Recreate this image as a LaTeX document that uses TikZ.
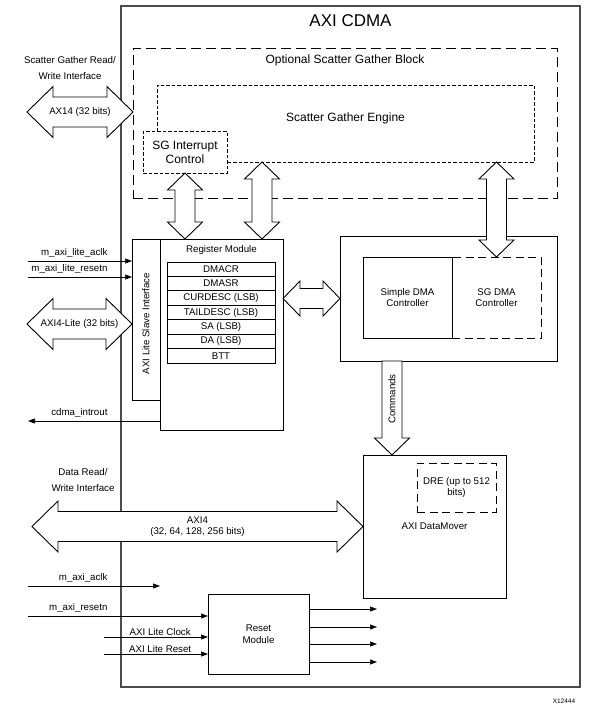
\documentclass[tikz,border=0pt]{standalone}
\usepackage{fontspec}
\setmainfont{Liberation Sans}
\usetikzlibrary{arrows.meta,positioning,calc}

\begin{document}
\begin{tikzpicture}[
    x=1pt, y=-1pt,
    font=\fontsize{9.7}{11.5}\selectfont,
    box/.style={draw, line width=0.9pt, align=center, anchor=north west, inner sep=0pt, outer sep=0pt},
    ldash/.style={box, dash pattern=on 8pt off 4.5pt},
    sdash/.style={box, dash pattern=on 3.5pt off 2pt},
    reg/.style={draw, line width=0.9pt, minimum width=108pt, minimum height=14.43pt, inner sep=0pt, outer sep=0pt},
    sig/.style={-{Triangle[length=7pt,width=5pt]}, line width=0.6pt},
    big/.style={font=\fontsize{12}{14}\selectfont},
    hdbl/.style n args={3}{to path={let \p1=(\tikztostart), \p2=(\tikztotarget) in
        -- (\x1+#1,\y1+#2) -- (\x1+#1,\y1+#3) -- (\x2-#1,\y1+#3) -- (\x2-#1,\y1+#2)
        -- (\x2,\y1) -- (\x2-#1,\y1-#2) -- (\x2-#1,\y1-#3) -- (\x1+#1,\y1-#3)
        -- (\x1+#1,\y1-#2) -- cycle}},
    vdbl/.style n args={3}{to path={let \p1=(\tikztostart), \p2=(\tikztotarget) in
        -- (\x1+#2,\y1-#1) -- (\x1+#3,\y1-#1) -- (\x1+#3,\y2+#1) -- (\x1+#2,\y2+#1)
        -- (\x1,\y2) -- (\x1-#2,\y2+#1) -- (\x1-#3,\y2+#1) -- (\x1-#3,\y1-#1)
        -- (\x1-#2,\y1-#1) -- cycle}},
    sdown/.style n args={3}{to path={let \p1=(\tikztostart), \p2=(\tikztotarget) in
        (\x1-#3,\y1) -- (\x1-#3,\y2+#1) -- (\x1-#2,\y2+#1) -- (\x1,\y2)
        -- (\x1+#2,\y2+#1) -- (\x1+#3,\y2+#1) -- (\x1+#3,\y1) -- cycle}},
    wide/.style={draw, fill=white, line width=0.9pt, hdbl={26pt}{25.5pt}{15pt}},
    hmid/.style={draw, fill=white, line width=0.9pt, hdbl={17pt}{17.5pt}{10pt}},
    vmid/.style={draw, fill=white, line width=0.9pt, vdbl={17pt}{17.5pt}{10pt}}
]
\useasboundingbox (0,0) rectangle (614,718);

% AXI CDMA core
\node[box, draw=black!70, line width=1.2pt, minimum width=459pt, minimum height=681pt] (cdma) at (121,6) {};
\node[font=\fontsize{17}{20}\selectfont] (cdmatitle) at ([yshift=-15pt]cdma.north) {AXI CDMA};

% scatter gather part
\node[box, dash pattern=on 10pt off 5pt, minimum width=424pt, minimum height=150pt] (sgblock) at (133,48) {};
\node[big] (sgtitle) at ([yshift=-12pt]sgblock.north) {Optional Scatter Gather Block};
\node[box, draw=none, minimum width=377pt, minimum height=77pt] (sgeng) at (157,85) {};
\node[big] (engtxt) at (345.5,118) {Scatter Gather Engine};
\node[sdash, big, minimum width=84pt, minimum height=42pt] (sgint) at (143,131) {SG Interrupt\\Control};
\draw[line width=0.9pt, dash pattern=on 3.5pt off 2pt]
    (sgint.north -| sgeng.west) |- (sgeng.north east) |- (sgint.east |- sgeng.south);

% register module
\node[box, minimum width=28pt, minimum height=161pt] (slave) at (132,239) {};
\node[rotate=90] (slavetxt) at ([yshift=-4pt]slave.center) {AXI Lite Slave Interface};
\node[box, minimum width=123pt, minimum height=191pt] (regmod) at (160,239) {};
\node (regtitle) at (221.5,250) {Register Module};
\node[reg, anchor=north west] (dmacr) at (167,262) {DMACR};
\node[reg, below=0pt of dmacr] (dmasr) {DMASR};
\node[reg, below=0pt of dmasr] (curdesc) {CURDESC (LSB)};
\node[reg, below=0pt of curdesc] (taildesc) {TAILDESC (LSB)};
\node[reg, below=0pt of taildesc] (sa) {SA (LSB)};
\node[reg, below=0pt of sa] (da) {DA (LSB)};
\node[reg, below=0pt of da] (btt) {BTT};

% DMA controllers, datamover, reset
\node[box, minimum width=217pt, minimum height=125pt] (dma) at (340,236) {};
\node[box, minimum width=89pt, minimum height=81pt] (simple) at (363,257) {Simple DMA\\Controller};
\node[ldash, minimum width=89pt, minimum height=81pt] (sgdma) at (452,257) {SG DMA\\Controller};
\node[box, minimum width=143pt, minimum height=143pt] (dmover) at (363,455) {AXI DataMover};
\node[ldash, minimum width=79pt, minimum height=49pt] (dre) at (417,463) {DRE (up to 512\\bits)};
\node[box, minimum width=101pt, minimum height=80pt, font=\fontsize{9.7}{12}\selectfont] (resetm) at (208,594) {Reset\\Module};

% hollow buses
\coordinate (ar2) at ([xshift=-21pt]regmod.north east);
\coordinate (cmdx) at ([xshift=29pt]dmover.north west);
\coordinate (sgrw) at (27,112);
\coordinate (litein) at (27,324);
\coordinate (datain) at (32,526.5);
\draw[vmid] (sgint.south) to (sgint.south |- regmod.north);
\draw[vmid] (ar2 |- sgeng.south) to (ar2);
\draw[vmid] (sgdma.north |- sgeng.south) to (sgdma.north);
\draw[hmid] (regmod.east |- dma.west) to (dma.west);
\draw[draw, fill=white, line width=0.9pt, sdown={17pt}{17.5pt}{10pt}] (cmdx |- dma.south) to (cmdx);
\node[rotate=90] (cmdlbl) at (392,399) {Commands};
\draw[wide] (sgrw) to (sgrw -| sgblock.west);
\node (ax14txt) at ($(sgrw)!0.5!(sgrw -| sgblock.west)$) {AX14 (32 bits)};
\draw[wide] (litein) to (litein -| slave.west);
\node (litetxt) at ($(litein)!0.5!(litein -| slave.west)$) {AXI4-Lite (32 bits)};
\draw[wide] (datain) to (dmover.west);
\node[align=center] (axi4txt) at ($(datain)!0.5!(dmover.west)$) {AXI4\\(32, 64, 128, 256 bits)};
\node[align=center, font=\fontsize{9.7}{16}\selectfont] (sgrwtxt) at (70,68) {Scatter Gather Read/\\Write Interface};
\node[align=center, font=\fontsize{9.7}{16}\selectfont] (datarw) at (83,480) {Data Read/\\Write Interface};

% single signals
\coordinate (lblx) at (111,0);
\coordinate (liteclk) at (28,261);
\coordinate (literst) at (28,277);
\coordinate (introut) at (28,421);
\coordinate (maclk) at (28,586);
\coordinate (maclkend) at (160,586);
\coordinate (mrst) at (28,616);
\coordinate (lclk) at (104,637);
\coordinate (lrst) at (104,654);
\draw[sig] (liteclk) -- (liteclk -| slave.west);
\node[above left=0pt] (liteclklbl) at (liteclk -| lblx) {m\_axi\_lite\_aclk};
\draw[sig] (literst) -- (literst -| slave.west);
\node[above left=0pt] (literstlbl) at (literst -| lblx) {m\_axi\_lite\_resetn};
\draw[sig] (introut -| regmod.west) -- (introut);
\node[above left=0pt] (introutlbl) at (introut -| lblx) {cdma\_introut};
\draw[sig] (maclk) -- (maclkend);
\node[above left=0pt] (maclklbl) at (maclk -| lblx) {m\_axi\_aclk};
\draw[sig] (mrst) -- (mrst -| resetm.west);
\node[above left=0pt] (mrstlbl) at (mrst -| lblx) {m\_axi\_resetn};
\draw[sig] (lclk) -- (lclk -| resetm.west) node[above, pos=0.54, inner sep=1.5pt] (lclklbl) {AXI Lite Clock};
\draw[sig] (lrst) -- (lrst -| resetm.west) node[above, pos=0.54, inner sep=1.5pt] (lrstlbl) {AXI Lite Reset};
\draw[sig] ([yshift=25pt]resetm.east) -- ++(68,0);
\draw[sig] ([yshift=7pt]resetm.east) -- ++(68,0);
\draw[sig] ([yshift=-10pt]resetm.east) -- ++(68,0);
\draw[sig] ([yshift=-28pt]resetm.east) -- ++(68,0);

\node[font=\fontsize{6.5}{8}\selectfont] (fignum) at (564,701) {X12444};
\end{tikzpicture}
\end{document}
